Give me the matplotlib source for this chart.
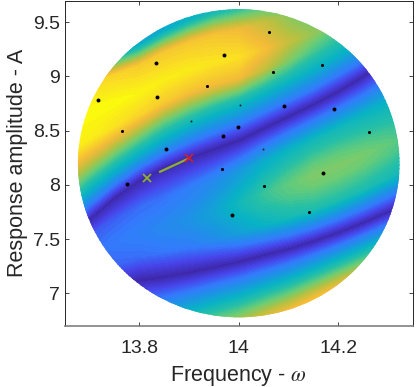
import matplotlib as mpl
mpl.use('Agg')
import numpy as np
import matplotlib.pyplot as plt
from matplotlib.colors import LinearSegmentedColormap
from matplotlib.patches import Ellipse

plt.rcParams['font.family'] = ['Liberation Sans', 'DejaVu Sans']
plt.rcParams['mathtext.fontset'] = 'stix'

freq = [13.65, 13.70, 13.75, 13.80, 13.85, 13.90, 13.95, 14.00, 14.05, 14.10, 14.15, 14.20, 14.25, 14.30, 14.35]

# curves followed by the colour bands
lower_valley = [6.90, 6.99, 7.05, 7.12, 7.15, 7.19, 7.24, 7.29, 7.35, 7.41, 7.48, 7.56, 7.65, 7.75, 7.86]
mid_ridge = [7.30, 7.38, 7.47, 7.55, 7.62, 7.69, 7.76, 7.83, 7.92, 8.00, 8.09, 8.18, 8.28, 8.38, 8.48]
upper_valley = [7.40, 7.68, 7.88, 8.04, 8.16, 8.25, 8.33, 8.41, 8.52, 8.63, 8.74, 8.86, 9.00, 9.17, 9.34]
top_ridge = [8.60, 8.68, 8.76, 8.85, 8.97, 9.06, 9.13, 9.18, 9.25, 9.32, 9.40, 9.50, 9.60, 9.70, 9.80]

# colour level along each band, bottom to top
z_below = [.55, .55, .55, .58, .62, .68, .72, .75, .80, .85, .92, .97, 1, 1, 1]
z_lower = [0] * 15
z_q1 = [.14, .15, .16, .17, .19, .21, .26, .33, .40, .45, .48, .48, .47, .45, .42]
z_q2 = [.16, .17, .19, .21, .24, .27, .33, .41, .50, .56, .60, .60, .59, .56, .52]
z_mid = [.17, .18, .20, .22, .25, .28, .34, .43, .52, .58, .62, .62, .61, .58, .54]
z_q3 = [.16, .17, .19, .21, .23, .26, .32, .40, .48, .54, .58, .58, .56, .53, .50]
z_q4 = [.13, .14, .15, .17, .18, .21, .25, .31, .37, .41, .43, .43, .41, .39, .36]
z_upper = [0] * 15
z_u1 = [.36, .36, .35, .33, .31, .28, .26, .25, .24, .23, .22, .20, .20, .20, .20]
z_u2 = [.68, .68, .64, .60, .56, .53, .50, .48, .46, .43, .40, .38, .36, .34, .32]
z_u3 = [.97, .96, .92, .88, .85, .82, .81, .80, .72, .62, .54, .50, .46, .42, .40]
z_top = [1, 1, 1, .98, .96, .95, .93, .92, .82, .72, .65, .60, .55, .50, .45]
z_near = [.90, .90, .88, .85, .84, .84, .83, .80, .72, .63, .56, .52, .46, .42, .38]
z_above = [.38, .38, .36, .36, .38, .42, .46, .48, .48, .46, .42, .40, .35, .30, .30]
z_far = [.10] * 15

big_x = [13.853, 13.969, 13.998, 14.091, 14.191, 13.775, 13.987, 14.170, 13.836, 13.717, 13.833, 13.971]
big_y = [8.334, 8.451, 8.537, 8.730, 8.703, 8.012, 7.721, 8.110, 8.813, 8.786, 9.121, 9.194]
mid_x = [13.766, 13.936, 13.967, 14.060, 14.069, 14.168, 14.262, 14.051, 14.142]
mid_y = [8.500, 8.909, 8.150, 9.409, 9.038, 9.108, 8.485, 7.994, 7.749]
small_x = [13.904, 14.003, 14.048]
small_y = [8.589, 8.737, 8.334]

path_x = [13.842, 13.897]
path_y = [8.122, 8.239]
start_x, start_y = 13.815, 8.064
end_x, end_y = 13.901, 8.246

xticks = [13.8, 14, 14.2]
yticks = [7, 7.5, 8, 8.5, 9, 9.5]

parula = LinearSegmentedColormap.from_list('parula', [
    (0.00, (.2422, .1504, .6603)),
    (0.10, (.2786, .2650, .9151)),
    (0.20, (.2000, .4800, .9900)),
    (0.30, (.1000, .5900, .8800)),
    (0.40, (.0300, .7000, .7700)),
    (0.50, (.1500, .7500, .6500)),
    (0.60, (.4300, .8000, .4500)),
    (0.70, (.7200, .7500, .2500)),
    (0.80, (.9500, .7300, .2200)),
    (0.90, (.9800, .8500, .1500)),
    (1.00, (.9800, .9800, .0500)),
])

low = np.array(lower_valley)
mid = np.array(mid_ridge)
up = np.array(upper_valley)
top = np.array(top_ridge)

Y = np.array([low - .6, low, low + .5 * (mid - low), low + .85 * (mid - low), mid,
              mid + .15 * (up - mid), mid + .5 * (up - mid), up,
              up + .25 * (top - up), up + .5 * (top - up), up + .75 * (top - up),
              top, top + .25, top + .45, top + 1])
Z = np.array([z_below, z_lower, z_q1, z_q2, z_mid, z_q3, z_q4, z_upper,
              z_u1, z_u2, z_u3, z_top, z_near, z_above, z_far])
X = np.tile(freq, (Y.shape[0], 1))

fig = plt.figure(figsize=(4.17, 3.87), dpi=100)
ax = fig.add_axes([64.5 / 417, 1 - 326 / 387, 348.5 / 417, 325.5 / 387])

cs = ax.contourf(X, Y, Z, levels=np.linspace(0, 1, 65), cmap=parula)
disc = Ellipse((14, 8.2), .646, 2.84, transform=ax.transData)
cs.set_clip_path(disc)

ax.scatter(big_x, big_y, s=8, color='k', linewidths=0, zorder=3)
ax.scatter(mid_x, mid_y, s=5, color='k', linewidths=0, zorder=3)
ax.scatter(small_x, small_y, s=2, color='#222222', linewidths=0, zorder=3)

ax.plot(path_x, path_y, color='#8fb02e', lw=1.6, zorder=4)
ax.plot(start_x, start_y, 'x', color='#8fb02e', ms=6, mew=1.3, zorder=4)
ax.plot(end_x, end_y, 'x', color='#cc2030', ms=6, mew=1.3, zorder=4)

ax.set_xlim(13.65, 14.35)
ax.set_ylim(6.7, 9.7)
ax.set_xticks(xticks)
ax.set_xticklabels(['13.8', '14', '14.2'])
ax.set_yticks(yticks)
ax.set_yticklabels(['7', '7.5', '8', '8.5', '9', '9.5'])
ax.tick_params(direction='in', top=True, right=True, length=3, width=.6, color='#262626',
               labelsize=14, labelcolor='#262626', pad=3)
ax.tick_params(axis='x', pad=10)
for s in ax.spines.values():
    s.set_linewidth(.7)
    s.set_color('#262626')
ax.spines['bottom'].set_color('#808080')
ax.spines['bottom'].set_linewidth(1.2)
ax.set_xlabel(r'Frequency - $\omega$', fontsize=15.5, color='#262626', labelpad=5)
ax.set_ylabel('Response amplitude - A', fontsize=15.5, color='#262626', labelpad=4)

fig.savefig('out.png', dpi=100)
